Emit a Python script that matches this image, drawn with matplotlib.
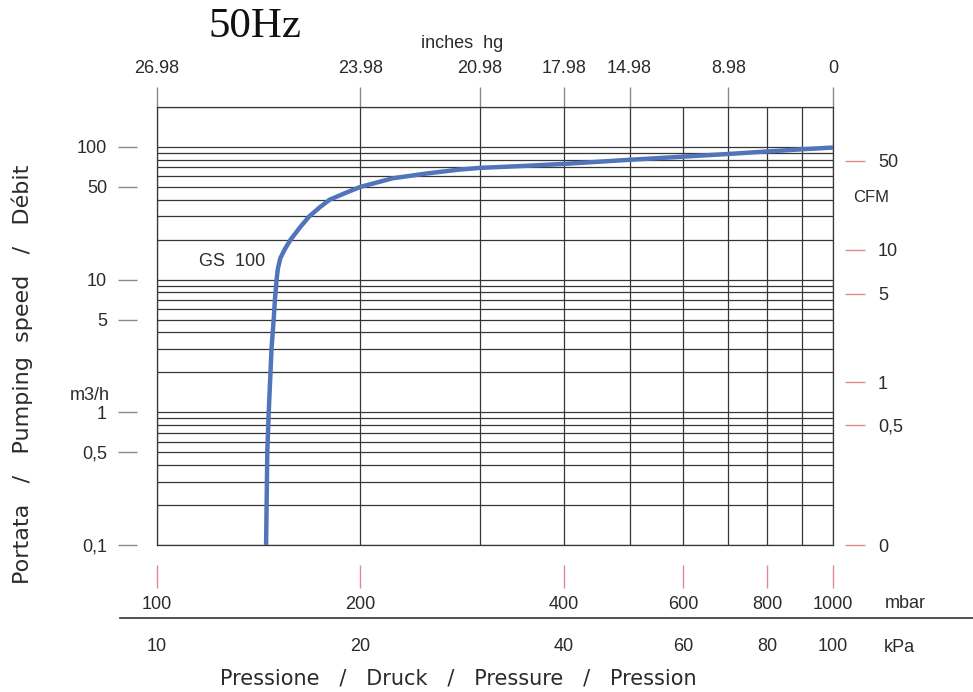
import matplotlib
matplotlib.use("Agg")
import matplotlib.pyplot as plt
from matplotlib.ticker import NullLocator, NullFormatter
from matplotlib.lines import Line2D

# ---- data ----
pressure_mbar = [145, 145.6, 146.3, 147.2, 147.7, 148.8, 149.5, 150.3, 150.9, 152.2,
                 154.6, 157.6, 163, 168, 174, 180, 190, 200, 223, 250, 280, 300,
                 350, 400, 500, 600, 700, 800, 900, 1000]
flow_m3h = [0.1, 0.5, 1, 2, 3, 5, 7.3, 10, 12, 14.5,
            17, 20, 25, 30, 35, 40, 45, 50, 58, 63, 67.5, 69.5,
            72, 74.5, 80, 84.5, 88.5, 92.5, 96, 99]

grid_x = [100, 200, 300, 400, 500, 600, 700, 800, 900, 1000]
grid_y = [0.1, 0.2, 0.3, 0.4, 0.5, 0.6, 0.7, 0.8, 0.9,
          1, 2, 3, 4, 5, 6, 7, 8, 9,
          10, 20, 30, 40, 50, 60, 70, 80, 90,
          100, 200]

left_ticks = [100, 50, 10, 5, 1, 0.5, 0.1]
left_labels = ["100", "50", "10", "5", "1", "0,5", "0,1"]

cfm_pos = [79, 16.8, 7.8, 1.68, 0.8, 0.1]
cfm_labels = ["50", "10", "5", "1", "0,5", "0"]

inhg_pos = [100, 200, 300, 400, 500, 700, 1000]
inhg_labels = ["26.98", "23.98", "20.98", "17.98", "14.98", "8.98", "0"]

mbar_ticks = [100, 200, 400, 600, 800, 1000]
mbar_labels = ["100", "200", "400", "600", "800", "1000"]
kpa_labels = ["10", "20", "40", "60", "80", "100"]

# ---- styling ----
FONT = "Liberation Sans"
TFONT = "DejaVu Sans"
TXT = "#2b2b2b"
GRID = "#363636"
RED = "#e08a8f"
GRAY = "#8a8a8a"
FS = 13

W, H = 973, 692
fig = plt.figure(figsize=(W / 100, H / 100), dpi=100)
fig.patch.set_facecolor("white")
L, R, T, B = 157, 833, 107, 545
ax = fig.add_axes([L / W, 1 - B / H, (R - L) / W, (B - T) / H])
ax.set_xscale("log")
ax.set_yscale("log")
ax.set_xlim(100, 1000)
ax.set_ylim(0.1, 200)

ax.set_xticks(grid_x)
ax.set_yticks(grid_y)
ax.xaxis.set_minor_locator(NullLocator())
ax.yaxis.set_minor_locator(NullLocator())
ax.tick_params(which="both", length=0, labelbottom=False, labelleft=False,
               labeltop=False, labelright=False)
ax.grid(True, color=GRID, linewidth=0.9)
for s in ax.spines.values():
    s.set_color(GRID)
    s.set_linewidth(0.9)

ax.plot(pressure_mbar, flow_m3h, color="#5075bb", linewidth=3.2,
        solid_capstyle="butt", solid_joinstyle="round", zorder=5)


def px(v):
    return v * 0.72


def clean(sec, axis_name):
    a = sec.xaxis if axis_name == "x" else sec.yaxis
    a.set_minor_locator(NullLocator())
    a.set_minor_formatter(NullFormatter())
    for s in sec.spines.values():
        s.set_visible(False)


# left m3/h axis
secL = ax.secondary_yaxis(-(20 / (R - L)))
secL.set_yticks(left_ticks, labels=left_labels)
clean(secL, "y")
secL.tick_params(axis="y", length=px(19), width=1.0, pad=px(11), labelsize=FS,
                 labelcolor=TXT, color=GRAY)
for t, v in zip(secL.yaxis.get_major_ticks(), left_ticks):
    t.tick1line.set_color(RED if v == 10 else GRAY)
for lab in secL.get_yticklabels():
    lab.set_family(FONT)

# right CFM axis
secR = ax.secondary_yaxis(1 + 12 / (R - L))
secR.set_yticks(cfm_pos, labels=cfm_labels)
clean(secR, "y")
secR.tick_params(axis="y", length=px(20), width=1.0, pad=px(13), labelsize=FS,
                 labelcolor=TXT, color=RED)
for lab in secR.get_yticklabels():
    lab.set_family(FONT)

# top inches hg axis
secT = ax.secondary_xaxis(1.0)
secT.set_xticks(inhg_pos, labels=inhg_labels)
clean(secT, "x")
secT.tick_params(axis="x", length=px(20), width=1.0, pad=px(10), labelsize=FS,
                 labelcolor=TXT, color=GRAY)
for t, v in zip(secT.xaxis.get_major_ticks(), inhg_pos):
    t.tick2line.set_color(RED if v == 200 else GRAY)
    t.tick1line.set_color(RED if v == 200 else GRAY)
for lab in secT.get_xticklabels():
    lab.set_family(FONT)

# bottom mbar axis
secB = ax.secondary_xaxis(-(20 / (B - T)))
secB.set_xticks(mbar_ticks, labels=mbar_labels)
clean(secB, "x")
secB.tick_params(axis="x", length=px(23), width=1.0, pad=px(8), labelsize=FS,
                 labelcolor=TXT, color=RED)
for t, v in zip(secB.xaxis.get_major_ticks(), mbar_ticks):
    t.tick1line.set_color(GRAY if v in (100, 1000) else RED)
for lab in secB.get_xticklabels():
    lab.set_family(FONT)

# kPa axis
secK = ax.secondary_xaxis(-(73 / (B - T)))
secK.set_xticks(mbar_ticks, labels=kpa_labels)
clean(secK, "x")
secK.tick_params(axis="x", length=0, pad=px(20), labelsize=FS, labelcolor=TXT)
for lab in secK.get_xticklabels():
    lab.set_family(FONT)

# separator line between mbar and kPa
fig.add_artist(Line2D([120 / W, 1.0], [1 - 618 / H, 1 - 618 / H],
                      color="#333333", linewidth=1.2))

# unit labels and curve label
fig.text(905 / W, 1 - 604 / H, "mbar", fontsize=FS, color=TXT, family=FONT,
         ha="center", va="center")
fig.text(899 / W, 1 - 647 / H, "kPa", fontsize=FS, color=TXT, family=FONT,
         ha="center", va="center")
fig.text(871 / W, 1 - 197 / H, "CFM", fontsize=FS - 1, color=TXT, family=FONT,
         ha="center", va="center")
fig.text(90 / W, 1 - 395 / H, "m3/h", fontsize=FS, color=TXT, family=FONT,
         ha="center", va="center")
fig.text(462 / W, 1 - 43 / H, "inches  hg", fontsize=FS, color=TXT,
         family=FONT, ha="center", va="center")
fig.text(232 / W, 1 - 262 / H, "GS  100", fontsize=FS, color=TXT, family=FONT,
         ha="center", va="center")

# axis titles
fig.text(458 / W, 1 - 678 / H,
         "Pressione   /   Druck   /   Pressure   /   Pression",
         fontsize=15, color=TXT, family=TFONT, ha="center", va="center")
fig.text(22 / W, 1 - 374 / H, "Portata   /   Pumping  speed   /   Débit",
         fontsize=16, color=TXT, family=TFONT, ha="center", va="center",
         rotation=90)

# main title
fig.text(255 / W, 1 - 27 / H, "50Hz", fontsize=31, color="#111111",
         family="Liberation Serif", ha="center", va="center")

fig.savefig("out.png", dpi=100, facecolor="white")
